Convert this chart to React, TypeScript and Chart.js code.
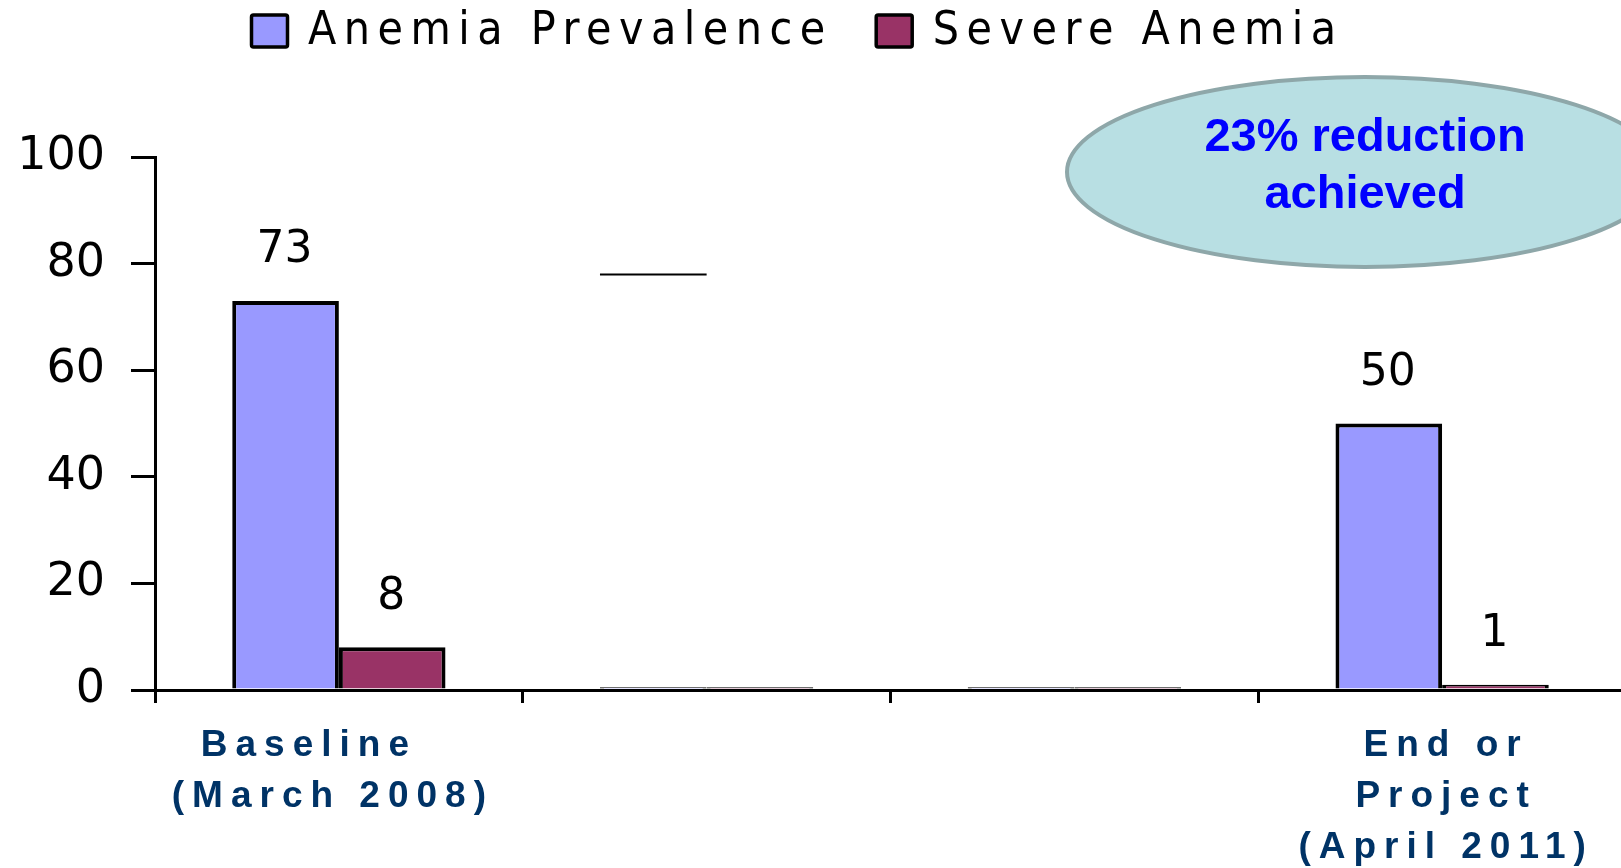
import { useEffect, useRef } from "react";
import { Chart, registerables } from "chart.js";

Chart.register(...registerables);

// Category axis labels, one entry per line
const categoryLines: string[][] = [
  ["Baseline", "(March 2008)"],
  [],
  [],
  ["End or", "Project", "(April 2011)"],
];
const categoryKeys = ["Baseline (March 2008)", "", " ", "End or Project (April 2011)"];

// Series values (%)
const anemiaPrevalence = [73, 0.5, 0.5, 50];
const severeAnemia = [8, 0.5, 0.5, 1];
const showValue = [true, false, false, true];

// Short rule drawn over the first series in the second slot
const ruleValue = [null, 78, null, null];

const seriesNames = ["Anemia Prevalence", "Severe Anemia"];
const seriesColors = ["#9999ff", "#993366"];
const calloutLines = ["23% reduction", "achieved"];

const Y_MIN = 0;
const Y_MAX = 100;
const Y_STEP = 20;

const overlayPlugin = {
  id: "overlay",
  afterDatasetsDraw(chart: any) {
    const ctx = chart.ctx as CanvasRenderingContext2D;
    const yScale = chart.scales.y;

    // value labels above bars
    ctx.save();
    ctx.font = "44px 'DejaVu Sans', Verdana, sans-serif";
    ctx.fillStyle = "#000";
    ctx.textAlign = "center";
    ctx.textBaseline = "middle";
    chart.data.datasets.forEach((ds: any, di: number) => {
      const meta = chart.getDatasetMeta(di);
      meta.data.forEach((bar: any, i: number) => {
        if (!showValue[i]) return;
        ctx.fillText(String(ds.data[i]), bar.x - 1, bar.y - 50);
      });
    });

    // short horizontal rule
    const meta0 = chart.getDatasetMeta(0);
    ctx.strokeStyle = "#000";
    ctx.lineWidth = 2;
    ruleValue.forEach((v, i) => {
      if (v == null) return;
      const bar: any = meta0.data[i];
      const y = Math.round(yScale.getPixelForValue(v)) + 0.5;
      ctx.beginPath();
      ctx.moveTo(bar.x - bar.width / 2, y);
      ctx.lineTo(bar.x + bar.width / 2, y);
      ctx.stroke();
    });
    ctx.restore();
  },
  afterDraw(chart: any) {
    const ctx = chart.ctx as CanvasRenderingContext2D;
    const xScale = chart.scales.x;
    const area = chart.chartArea;

    // legend
    ctx.save();
    ctx.font = "46px 'DejaVu Sans Condensed', 'DejaVu Sans', sans-serif";
    (ctx as any).letterSpacing = "7.5px";
    ctx.textBaseline = "middle";
    ctx.textAlign = "left";
    let lx = 250;
    const ly = 31;
    seriesNames.forEach((name, i) => {
      ctx.fillStyle = seriesColors[i];
      ctx.strokeStyle = "#000";
      ctx.lineWidth = 3.5;
      ctx.beginPath();
      (ctx as any).roundRect(lx + 1.5, ly - 16, 36, 32, 2);
      ctx.fill();
      ctx.stroke();
      ctx.fillStyle = "#000";
      const tx = lx + 58;
      ctx.fillText(name, tx, ly + 1);
      lx = tx + ctx.measureText(name).width + 42;
    });
    ctx.restore();

    // category labels
    ctx.save();
    ctx.font = "bold 37px 'Liberation Sans', Arial, sans-serif";
    (ctx as any).letterSpacing = "8px";
    ctx.fillStyle = "#003366";
    ctx.textAlign = "center";
    ctx.textBaseline = "middle";
    categoryLines.forEach((lines, i) => {
      const cx = xScale.getPixelForValue(i) + 4;
      lines.forEach((line, j) => {
        const shift = i === 0 && j === 0 ? -34 : i === 0 ? -10 : 0;
        ctx.fillText(line, cx + shift, area.bottom + 56 + j * 51);
      });
    });
    ctx.restore();

    // callout bubble
    ctx.save();
    const ex = 1365;
    const ey = 172;
    ctx.beginPath();
    ctx.ellipse(ex, ey, 298, 95, 0, 0, Math.PI * 2);
    ctx.fillStyle = "#b8dfe3";
    ctx.fill();
    ctx.lineWidth = 4;
    ctx.strokeStyle = "#8ea7a9";
    ctx.stroke();
    ctx.font = "bold 47px 'Liberation Sans', Arial, sans-serif";
    ctx.fillStyle = "#0000ff";
    ctx.textAlign = "center";
    ctx.textBaseline = "middle";
    calloutLines.forEach((line, j) => {
      ctx.fillText(line, ex, 138 + j * 57);
    });
    ctx.restore();
  },
};

export default function App() {
  const canvasRef = useRef<HTMLCanvasElement | null>(null);

  useEffect(() => {
    document.body.style.margin = "0";
    document.body.style.overflow = "hidden";
    const canvas = canvasRef.current;
    if (!canvas) return;
    const chart = new Chart(canvas, {
      type: "bar",
      data: {
        labels: categoryKeys,
        datasets: [
          {
            label: seriesNames[0],
            data: anemiaPrevalence,
            backgroundColor: seriesColors[0],
            borderColor: "#000",
            borderWidth: 4,
          },
          {
            label: seriesNames[1],
            data: severeAnemia,
            backgroundColor: seriesColors[1],
            borderColor: "#000",
            borderWidth: 4,
          },
        ],
      },
      options: {
        responsive: false,
        animation: false,
        devicePixelRatio: 1,
        layout: { padding: { top: 157, right: 10, left: 0, bottom: 0 } },
        datasets: {
          bar: { categoryPercentage: 0.58, barPercentage: 1.0 },
        },
        plugins: {
          legend: { display: false },
          tooltip: { enabled: false },
          title: { display: false },
        },
        scales: {
          x: {
            offset: true,
            grid: {
              offset: true,
              drawOnChartArea: false,
              drawTicks: true,
              tickLength: 13,
              color: "#000",
              lineWidth: 3,
            },
            border: { display: true, color: "#000", width: 3, z: 1 },
            ticks: { display: false },
            afterFit: (scale: any) => {
              scale.height = 178;
            },
          },
          y: {
            min: Y_MIN,
            max: Y_MAX,
            ticks: {
              stepSize: Y_STEP,
              color: "#000",
              padding: 26,
              font: { family: "'DejaVu Sans', Verdana, sans-serif", size: 46 },
            },
            grid: {
              drawOnChartArea: false,
              drawTicks: true,
              tickLength: 24,
              color: "#000",
              lineWidth: 3,
            },
            border: { display: true, color: "#000", width: 3, z: 1 },
            afterFit: (scale: any) => {
              scale.width = 155;
            },
          },
        },
      },
      plugins: [overlayPlugin],
    });
    return () => chart.destroy();
  }, []);

  return (
    <div style={{ width: 1621, height: 868, overflow: "hidden", background: "#fff" }}>
      <canvas ref={canvasRef} width={1636} height={868} style={{ display: "block" }} />
    </div>
  );
}
